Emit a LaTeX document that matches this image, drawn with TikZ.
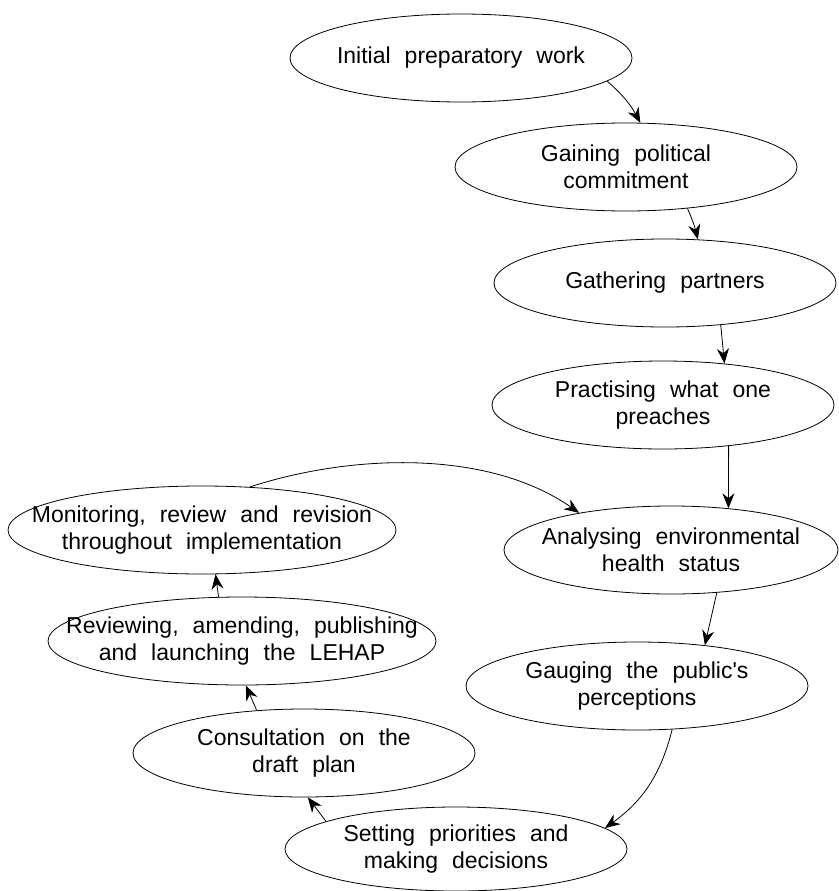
\documentclass[tikz,border=0pt]{standalone}
\usepackage{fontspec}
\setmainfont{Liberation Sans}[WordSpace=2.2]
\usetikzlibrary{shapes.geometric,arrows.meta}

\begin{document}
\begin{tikzpicture}[x=1pt, y=-1pt, line width=0.8pt,
		>={Stealth[length=15pt,width=12pt]},
		stage/.style={draw, ellipse, inner xsep=-80pt, inner ysep=0pt, minimum width=342pt, minimum height=88pt,
			align=center, font=\fontsize{23}{27}\selectfont}]
		\useasboundingbox (0,0) rectangle (838,891);
		\node (init)[stage] at(461,58)  {Initial preparatory work};
		\node (gain)[stage] at(626,167)  {Gaining political\\commitment};
		\node (gath)[stage] at(665,283)  {Gathering partners};
		\node (prac)[stage] at(663,405)  {Practising what one\\preaches};
		\node (anal)[stage, minimum width=334pt] at(671,550)  {Analysing environmental\\health status};
		\node (gaug)[stage] at(637,686)  {Gauging the public\textquotesingle s\\perceptions};
		\node (sett)[stage, minimum height=84pt] at(456,849)  {Setting priorities and\\making decisions};
		\node (cons)[stage] at(304,753)  {Consultation on the\\draft plan};
		\node (revi)[stage, minimum width=388pt] at(242,641)  {Reviewing, amending, publishing\\and launching the LEHAP};
		\node (moni)[stage, minimum width=388pt] at(202,530)  {Monitoring, review and revision\\throughout implementation};
		\draw [->](init.-9) to[bend left=10] (gain.72);
		\draw [->](gain.-34) to[bend left=5] (gath.53);
		\draw [->](gath.-37)--(prac.34);
		\draw [->](prac.-32)--(anal.36);
		\draw [->](anal.-43)--(gaug.31);
		\draw [->](gaug.-51) to[bend left=20] (sett.8);
		\draw [->](sett.168)--(cons.-85);
		\draw [->](cons.138)--(revi.-85);
		\draw [->](revi.118)--(moni.-73);
		\draw [->](moni.42) to[out=18, in=145, looseness=0.85] (anal.158);
	\end{tikzpicture}
\end{document}
